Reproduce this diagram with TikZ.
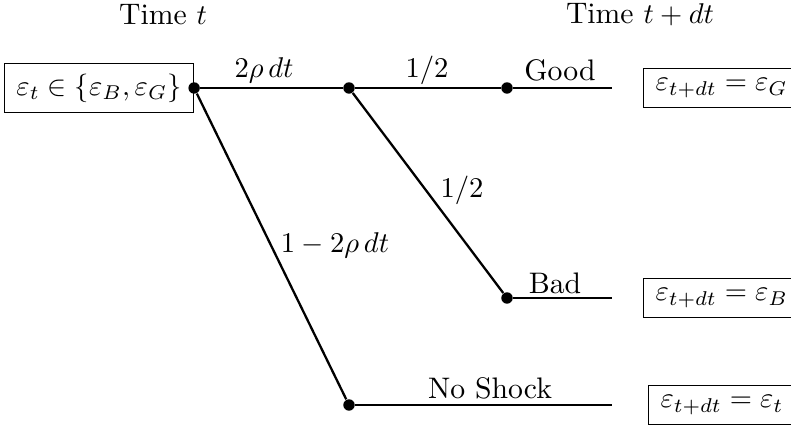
\documentclass[tikz,border=0pt]{standalone}
\usetikzlibrary{positioning}
\begin{document}
\begin{tikzpicture}[x=0.35pt, y=-0.35pt,
  every node/.style={font=\fontsize{10.4}{12.5}\selectfont},
  statebox/.style={draw, line width=0.4pt, inner xsep=4.2pt, inner ysep=3.6pt},
  dot/.style={circle, fill=black, inner sep=0pt, minimum size=4pt},
  branch/.style={line width=0.8pt},
  lbl/.style={inner sep=1pt}
]
  \useasboundingbox (0,0) rectangle (791,427);

  % Time labels
  \node (tnow) at (163,15) {Time $t$};
  \node (tnext) at (640,15) {Time $t+dt$};

  % Tree nodes
  \node[statebox] (start) at (99,88) {$\varepsilon_t \in \{\varepsilon_B,\varepsilon_G\}$};
  \node[dot] (root) at (start.east) {};
  \node[dot] (shock) at (349,88) {};
  \node[dot] (good) at (507,88) {};
  \node[dot] (bad) at (507,298) {};
  \node[dot] (noshock) at (349,405) {};
  \coordinate (goodend) at (612,88);
  \coordinate (badend) at (612,298);
  \coordinate (noshockend) at (612,405);

  % Outcomes
  \node[statebox, anchor=west] (resG) at (643,88) {$\varepsilon_{t+dt} = \varepsilon_G$};
  \node[statebox, anchor=west] (resB) at (643,298) {$\varepsilon_{t+dt} = \varepsilon_B$};
  \node[statebox, anchor=west] (rest) at (648,405) {$\varepsilon_{t+dt} = \varepsilon_t$};

  % Branches
  \draw[branch] (root) -- (shock);
  \draw[branch] (shock) -- (good);
  \draw[branch] (good) -- (goodend);
  \draw[branch] (shock) -- (bad);
  \draw[branch] (bad) -- (badend);
  \draw[branch] (root) -- (noshock);
  \draw[branch] (noshock) -- (noshockend);

  % Branch labels
  \node[lbl] (pshock) at (264,70) {$2\rho\,dt$};
  \node[lbl] (pgood) at (427,70) {$1/2$};
  \node[lbl] (pbad) at (462,190) {$1/2$};
  \node[lbl] (pnone) at (335,245) {$1-2\rho\,dt$};
  \node[lbl] (lgood) at (560,70) {Good};
  \node[lbl] (lbad) at (555,283) {Bad};
  \node[lbl] (lnone) at (490,388) {No Shock};
\end{tikzpicture}
\end{document}
